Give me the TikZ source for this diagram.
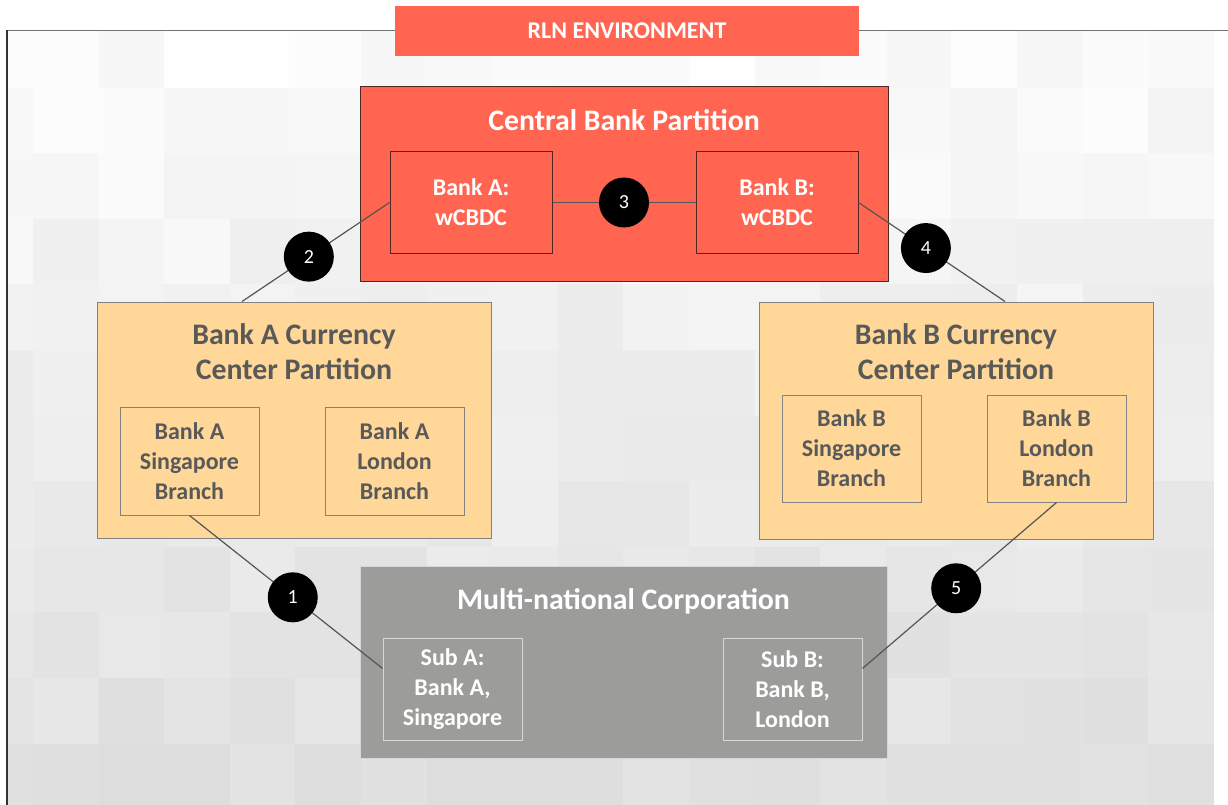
\documentclass[tikz,border=0pt]{standalone}
\usepackage{fontspec}
\setmainfont{Carlito}
\usepackage{tikz}
\usetikzlibrary{calc}
\definecolor{rlnred}{RGB}{255,101,80}
\definecolor{redline}{RGB}{80,40,35}
\definecolor{ccorange}{RGB}{255,216,153}
\definecolor{ccline}{RGB}{130,130,130}
\definecolor{mncgray}{RGB}{156,156,154}
\definecolor{mncline}{RGB}{215,215,215}
\definecolor{txtgray}{RGB}{89,89,89}
\definecolor{wireline}{RGB}{85,85,85}
\tikzset{
  box/.style = {align=center, inner sep=0pt, text centered, font=\bfseries\fontsize{24}{30}\selectfont},
  RedPart/.style = {box, draw = redline, line width=1pt, fill = rlnred},
  RedNode/.style = {box, text = white, draw = redline, line width=1pt, fill = rlnred, minimum width=162pt, minimum height=101pt},
  OrangePart/.style = {box, draw = ccline, line width=1pt, fill = ccorange, minimum width=394pt, minimum height=236pt},
  OrangeNode/.style = {box, text = txtgray, draw = ccline, line width=1pt, minimum width=139pt, minimum height=107pt},
  GrayPart/.style = {box, draw = mncline, line width=1pt, fill = mncgray},
  GrayNode/.style = {box, text = white, draw = mncline, line width=1pt, minimum width=139pt, minimum height=102pt},
  PartTitle/.style = {box, font=\bfseries\fontsize{29.8}{35}\selectfont},
  Dot/.style = {circle, fill = black, text = white, inner sep=0pt, minimum size=50pt, font=\fontsize{20}{20}\selectfont},
  wire/.style = {draw = wireline, line width=1.2pt}
}
\begin{document}
\begin{tikzpicture}[x=1pt, y=-1pt]
  \useasboundingbox (0,0) rectangle (1228,805);
  % checkered backdrop
  \begin{scope}
    \clip (7,30.5) rectangle (1228,805);
    \pgfmathsetseed{4242}
    \foreach \i in {0,...,18}{
      \foreach \j in {0,...,11}{
        \pgfmathsetmacro\shade{100-0.95*\j-3.5*rnd}
        \fill[white!\shade!black] (-32.6+65.6*\i, 22+65.6*\j) rectangle +(65.6,65.6);
      }
    }
  \end{scope}
  \draw[draw = black!55, line width=1.5pt] (1228,30.5) -- (7,30.5);
  \draw[draw = black!80, line width=1.5pt] (7,30.5) -- (7,805);

  % header
  \node [box, text = white, fill = rlnred, minimum width=464pt, minimum height=50pt,
         font=\bfseries\fontsize{24}{26}\selectfont] (hdr) at (627,31) {RLN ENVIRONMENT};

  % central bank
  \node [RedPart, minimum width=528pt, minimum height=194pt] (cbp) at (624,184) {};
  \node [PartTitle, text = white] (cbpt) at (624,120) {Central Bank Partition};
  \node [RedNode] (wa) at (471,202.5) {Bank A:\\wCBDC};
  \node [RedNode] (wb) at (777,202.5) {Bank B:\\wCBDC};

  % currency centers
  \node [OrangePart] (cca) at (294,420) {};
  \node [PartTitle, text = txtgray] (ccat) at (294,352) {Bank A Currency\\Center Partition};
  \node [OrangeNode, minimum height=108pt] (sga) at (189.5,461) {Bank A\\Singapore\\Branch};
  \node [OrangeNode, minimum height=108pt] (lna) at (394.5,461) {Bank A\\London\\Branch};

  \node [OrangePart, minimum height=237pt] (ccb) at (956,420.5) {};
  \node [PartTitle, text = txtgray] (ccbt) at (956,352) {Bank B Currency\\Center Partition};
  \node [OrangeNode] (sgb) at (851.5,448.5) {Bank B\\Singapore\\Branch};
  \node [OrangeNode] (lnb) at (1056.5,448.5) {Bank B\\London\\Branch};

  % corporation
  \node [GrayPart, minimum width=527pt, minimum height=192pt] (mnc) at (623.5,662) {};
  \node [PartTitle, text = white] (mnct) at (623.5,601) {Multi-national Corporation};
  \node [GrayNode] (suba) at (452.5,689) {Sub A:\\Bank A,\\Singapore};
  \node [GrayNode] (subb) at (792.5,689) {Sub B:\\Bank B,\\London};

  % links
  \draw [wire] (wa.east) -- node [Dot] (d3) {3} (wb.west);
  \draw [wire] (wa.west) -- node [Dot, pos=0.547] (d2) {2} ($(cca.north)+(-52,0)$);
  \draw [wire] (wb.east) -- node [Dot, pos=0.46] (d4) {4} ($(ccb.north)+(49,0)$);
  \draw [wire] (sga.south) -- node [Dot, pos=0.535] (d1) {1} ($(suba.north west)!0.3!(suba.south west)$);
  \draw [wire] (lnb.south) -- node [Dot, pos=0.517] (d5) {5} ($(subb.north east)!0.3!(subb.south east)$);
\end{tikzpicture}
\end{document}
